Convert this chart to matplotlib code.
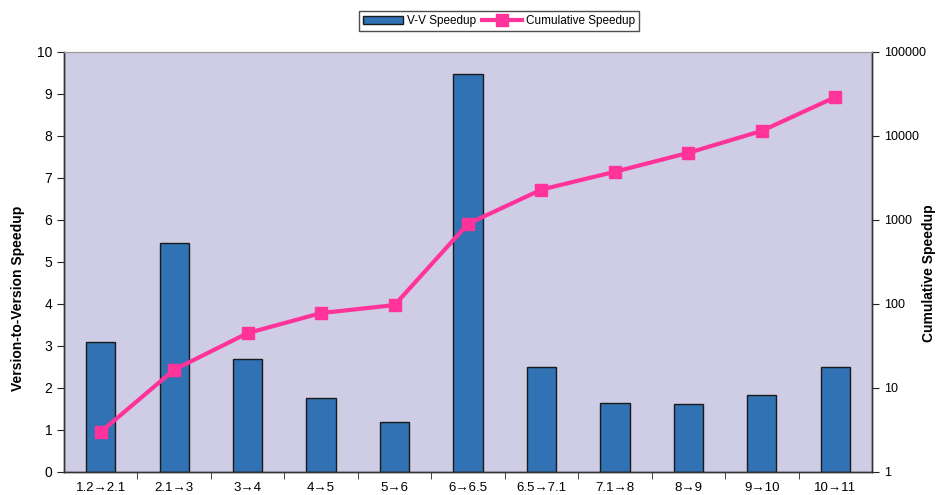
import matplotlib
matplotlib.use("Agg")
import matplotlib.pyplot as plt
from matplotlib.ticker import FixedLocator, FixedFormatter

plt.rcParams['font.family'] = ['Liberation Sans', 'DejaVu Sans']

versions = ["1.2→2.1", "2.1→3", "3→4", "4→5", "5→6", "6→6.5",
            "6.5→7.1", "7.1→8", "8→9", "9→10", "10→11"]
vv_speedup = [3.1, 5.45, 2.7, 1.75, 1.2, 9.48, 2.5, 1.65, 1.63, 1.83, 2.5]
cumulative = [3.0, 16.5, 45, 78, 97, 900, 2300, 3750, 6300, 11500, 29000]

left_ticks = list(range(0, 11))
right_ticks = [1, 10, 100, 1000, 10000, 100000]

fig = plt.figure(figsize=(9.36, 4.95), dpi=100)
ax = fig.add_axes([0.0684, 0.0465, 0.8632, 0.8485])
ax.set_facecolor('#CFCDE5')

x = list(range(len(versions)))
bars = ax.bar(x, vv_speedup, width=0.4, color='#3072B3', edgecolor='#1a1a1a',
              linewidth=1.0, label='V-V Speedup', zorder=2)
ax.set_xlim(-0.5, len(versions) - 0.5)
ax.set_ylim(0, 10)
ax.set_yticks(left_ticks)
ax.set_xticks(x)
ax.set_xticklabels(versions, fontsize=9.5)
ax.tick_params(axis='x', which='major', length=0, pad=7)
ax.xaxis.set_minor_locator(FixedLocator([i + 0.5 for i in range(len(versions) - 1)]))
ax.tick_params(axis='x', which='minor', length=5, direction='out', color='#222222')
ax.tick_params(axis='y', length=5, direction='out', labelsize=10, color='#222222')
ax.set_ylabel('Version-to-Version Speedup', fontsize=10, fontweight='bold',
              va='center')
ax.yaxis.set_label_coords(-0.0565, 0.414)

ax2 = ax.twinx()
line, = ax2.plot(x, cumulative, color='#FF3399', linewidth=3, marker='s',
                 markersize=9, label='Cumulative Speedup', zorder=3)
ax2.set_yscale('log')
ax2.set_ylim(1, 100000)
ax2.yaxis.set_major_locator(FixedLocator(right_ticks))
ax2.yaxis.set_major_formatter(FixedFormatter([str(t) for t in right_ticks]))
ax2.yaxis.set_minor_locator(FixedLocator([]))
ax2.tick_params(axis='y', length=5, direction='out', labelsize=9, color='#222222')
ax2.set_ylabel('Cumulative Speedup', fontsize=10, fontweight='bold',
               rotation=90, va='center')
ax2.yaxis.set_label_coords(1.0705, 0.474)

for a in (ax, ax2):
    for side in ('left', 'bottom', 'right'):
        a.spines[side].set_color('#333333')
        a.spines[side].set_linewidth(1.0)
    a.spines['top'].set_color('#9a9a9a')
    a.spines['top'].set_linewidth(0.8)

leg = fig.legend([bars, line], ['V-V Speedup', 'Cumulative Speedup'],
                 loc='center', bbox_to_anchor=(0.533, 0.958), ncol=2,
                 fontsize=8.5, frameon=True, fancybox=False, edgecolor='#222222',
                 handlelength=3.4, handletextpad=0.3, columnspacing=0.5,
                 borderpad=0.35)
leg.get_frame().set_linewidth(1.0)

fig.savefig('out.png', dpi=100, facecolor='white')
